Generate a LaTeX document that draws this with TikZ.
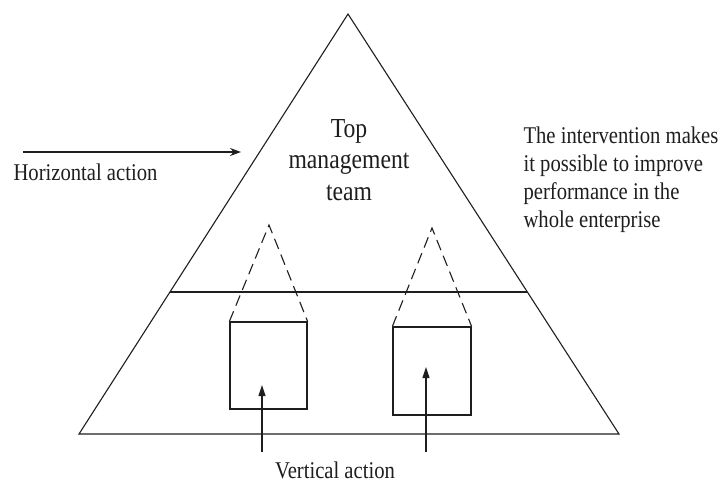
\documentclass[tikz,border=0pt]{standalone}
\usepackage{fontspec}
\setmainfont[FakeStretch=0.86]{Liberation Serif}
\usetikzlibrary{arrows.meta,calc}
\definecolor{ink}{HTML}{1E1E1E}
\begin{document}
\begin{tikzpicture}[x=1pt,y=-1pt,line width=1.1pt,draw=ink,
  txt/.style={font=\fontsize{24}{31.5}\selectfont,inner sep=0pt,text=ink},
  toptxt/.style={font=\fontsize{27.5}{31.5}\selectfont,inner sep=0pt,text=ink},
  notetxt/.style={font=\fontsize{24}{28}\selectfont,inner sep=0pt,text=ink},
  unitbox/.style={draw=ink,line width=1.2pt,inner sep=0pt},
  dashline/.style={draw=ink,dash pattern=on 11pt off 6pt},
  uparrow/.style={draw=ink,-{Triangle[length=11pt,width=7pt]}},
  sidearrow/.style={draw=ink,line width=1.3pt,-{Stealth[length=11pt,width=8pt]}}]
\useasboundingbox (0,0) rectangle (722,483);
% main pyramid
\coordinate (apex) at (348,14);
\coordinate (bl) at (79,434);
\coordinate (br) at (619,434);
\draw (apex) -- (bl) -- (br) -- cycle;
\coordinate (ml) at ($(apex)!0.662!(bl)$);
\coordinate (mr) at ($(apex)!0.662!(br)$);
\draw (ml) -- (mr);
% units
\node[unitbox,minimum width=77pt,minimum height=87pt] (boxL) at (268.5,365.5) {};
\node[unitbox,minimum width=78pt,minimum height=88pt] (boxR) at (432,371) {};
\coordinate (peakL) at (269,225);
\coordinate (peakR) at (432,228);
\draw[dashline] (boxL.north west) -- (peakL) -- (boxL.north east);
\draw[dashline] (boxR.north west) -- (peakR) -- (boxR.north east);
% vertical arrows
\coordinate (vLs) at (262,452);
\coordinate (vLe) at (262,385);
\coordinate (vRs) at (426,452);
\coordinate (vRe) at (426,367);
\draw[uparrow] (vLs) -- (vLe);
\draw[uparrow] (vRs) -- (vRe);
% horizontal arrow
\coordinate (hs) at (23,152);
\coordinate (he) at (241,152);
\draw[sidearrow] (hs) -- (he);
% texts
\node[txt,anchor=base west] (horiz) at (13,180) {Horizontal action};
\node[toptxt,align=center,anchor=base] (top) at (349,200) {Top\\management\\team};
\node[notetxt,align=left,anchor=base west] (note) at (523,227) {The intervention makes\\it possible to improve\\performance in the\\whole enterprise};
\node[txt,anchor=base] (vert) at (335,478) {Vertical action};
\end{tikzpicture}
\end{document}
